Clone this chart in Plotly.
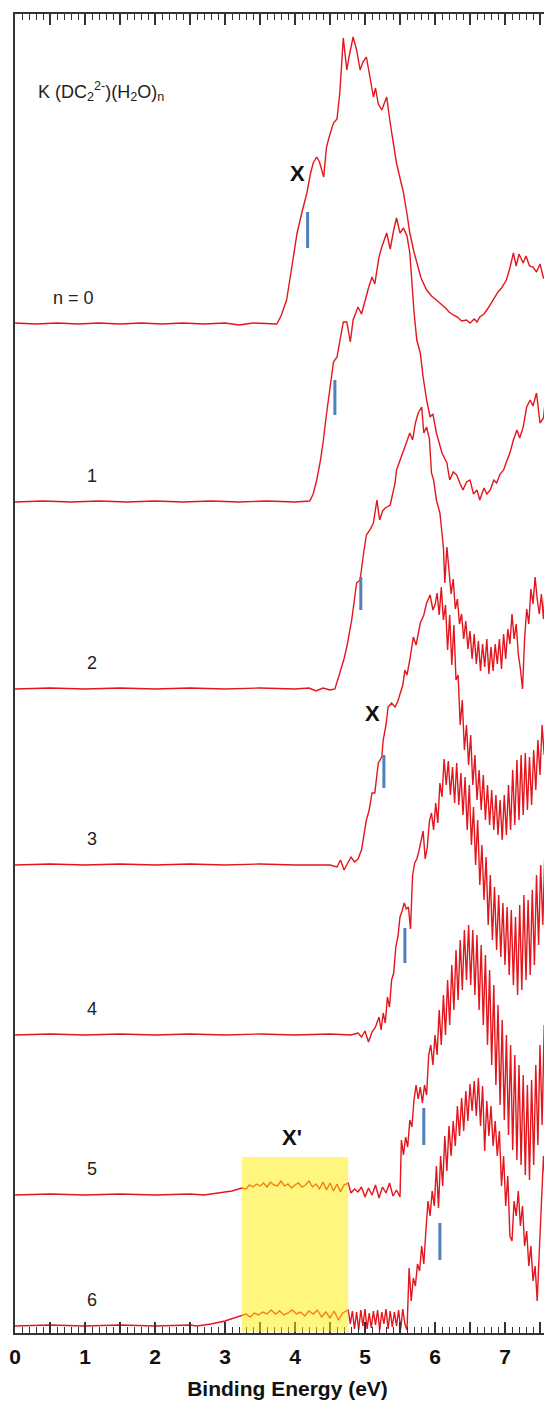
import plotly.graph_objects as go

# ---------------- data ----------------
n_labels = ["n = 0", "1", "2", "3", "4", "5", "6"]
offsets = [1009, 831, 644, 468, 298, 138, 7]   # vertical stacking offsets (arb. units)

E0 = [0.0, 0.3, 0.6, 0.9, 1.2, 1.5, 1.8, 2.1, 2.4, 2.7, 3.0, 3.2, 3.4, 3.6, 3.74, 3.8, 3.88, 3.95, 4.03, 4.1,
      4.17, 4.22, 4.26, 4.31, 4.35, 4.41, 4.45, 4.5, 4.55, 4.6, 4.64, 4.69, 4.72, 4.74, 4.78, 4.83, 4.88, 4.93,
      4.97, 5.02, 5.07, 5.12, 5.15, 5.19, 5.24, 5.28, 5.31, 5.36, 5.4, 5.45, 5.5, 5.55, 5.6, 5.64, 5.7, 5.74,
      5.8, 5.88, 5.95, 6.02, 6.07, 6.15, 6.2, 6.26, 6.32, 6.38, 6.45, 6.5, 6.56, 6.6, 6.64, 6.7, 6.76, 6.83,
      6.9, 6.95, 7.02, 7.07, 7.12, 7.16, 7.2, 7.26, 7.3, 7.35, 7.4, 7.45, 7.5, 7.55, 7.6, 7.64, 7.7, 7.8]
I0 = [1, 0, 1, 0, 1, 0, 1, 0, 1, 0, 1, -1, 1, 0, 0, 8, 24, 55, 91, 112,
      131, 150, 161, 167, 162, 147, 177, 190, 201, 205, 231, 286, 262, 254, 270, 287, 274, 254,
      262, 267, 247, 227, 236, 220, 214, 222, 227, 201, 182, 161, 146, 131, 110, 91, 72, 61,
      46, 34, 28, 24, 21, 16, 12, 9, 7, 3, 4, 1, 5, 2, 7, 10, 16, 24,
      32, 36, 44, 56, 71, 58, 70, 61, 68, 58, 57, 52, 60, 46, 44, 77, 70, 75]

E1 = [0.0, 0.4, 0.8, 1.2, 1.6, 2.0, 2.4, 2.8, 3.2, 3.6, 4.0, 4.21, 4.26, 4.31, 4.36, 4.4, 4.45, 4.5, 4.55,
      4.6, 4.65, 4.69, 4.74, 4.79, 4.83, 4.87, 4.9, 4.95, 5.0, 5.05, 5.1, 5.14, 5.2, 5.24, 5.31, 5.36, 5.41,
      5.45, 5.5, 5.55, 5.6, 5.64, 5.67, 5.7, 5.74, 5.79, 5.83, 5.88, 5.93, 5.97, 6.02, 6.1, 6.17, 6.21,
      6.26, 6.31, 6.36, 6.4, 6.45, 6.5, 6.55, 6.6, 6.64, 6.7, 6.74, 6.79, 6.84, 6.88, 6.93, 6.98, 7.02,
      7.07, 7.12, 7.17, 7.21, 7.26, 7.31, 7.36, 7.4, 7.45, 7.5, 7.55, 7.6, 7.64, 7.7, 7.8]
I1 = [0, 1, 0, 1, 0, 1, 0, 1, 0, 1, 0, 1, 8, 22, 40, 59, 88, 115, 140,
      145, 165, 180, 180, 160, 182, 190, 195, 188, 202, 214, 225, 218, 245, 255, 269, 253, 272,
      284, 269, 274, 266, 249, 220, 190, 162, 149, 125, 102, 85, 88, 69, 49, 39, 22,
      30, 27, 18, 12, 20, 22, 8, 12, 2, 14, 8, 12, 22, 19, 28, 32, 40,
      49, 62, 72, 64, 75, 95, 102, 96, 109, 79, 84, 119, 135, 150, 165]

E2 = [0.0, 0.5, 1.0, 1.5, 2.0, 2.5, 3.0, 3.5, 4.0, 4.2, 4.3, 4.4, 4.5, 4.57, 4.64, 4.7, 4.74, 4.81, 4.88,
      4.93, 4.98, 5.02, 5.07, 5.12, 5.17, 5.21, 5.25, 5.29, 5.36, 5.43, 5.45, 5.5, 5.55, 5.6, 5.64, 5.68,
      5.72, 5.76, 5.81, 5.84, 5.88, 5.92, 5.95, 5.98, 6.02, 6.07, 6.12, 6.14, 6.17,
      6.20, 6.23, 6.26, 6.29, 6.32, 6.35, 6.38, 6.41, 6.44, 6.47, 6.50, 6.53, 6.56, 6.59, 6.62, 6.65,
      6.68, 6.71, 6.74, 6.77, 6.80, 6.83, 6.86, 6.89, 6.92, 6.95, 6.98, 7.01, 7.04, 7.07, 7.10, 7.13,
      7.16, 7.19, 7.22, 7.25, 7.28, 7.31, 7.34, 7.37, 7.40, 7.43, 7.46, 7.49, 7.52, 7.55, 7.58, 7.61,
      7.64, 7.70, 7.80]
I2 = [0, 1, 0, 1, 0, 1, 0, 1, 0, 1, -2, 1, -1, 0, 16, 30, 42, 69, 106,
      109, 136, 154, 159, 166, 189, 169, 178, 181, 184, 206, 219, 228, 239, 248, 256, 249,
      266, 276, 282, 256, 262, 250, 216, 209, 189, 176, 142, 106, 142,
      120, 95, 110, 80, 90, 65, 75, 50, 68, 40, 58, 30, 55, 25, 48, 18,
      45, 22, 50, 15, 42, 18, 45, 25, 50, 20, 55, 30, 60, 45, 75, 50,
      65, 35, 20, 0, 50, 80, 65, 100, 85, 112, 90, 75, 95, 70, 110, 140,
      180, 195, 205]

E3 = [0.0, 0.5, 1.0, 1.5, 2.0, 2.5, 3.0, 3.5, 4.0, 4.5, 4.6, 4.65, 4.7, 4.75, 4.8, 4.85, 4.9, 4.95, 5.02,
      5.06, 5.1, 5.14, 5.19, 5.24, 5.26, 5.3, 5.33, 5.38, 5.43, 5.47, 5.5, 5.54, 5.57, 5.6, 5.64, 5.69,
      5.73, 5.79, 5.84, 5.88, 5.93, 5.97,
      6.00, 6.03, 6.06, 6.09, 6.12, 6.15, 6.18, 6.21, 6.24, 6.27, 6.30, 6.33, 6.36, 6.39, 6.42, 6.45,
      6.48, 6.51, 6.54, 6.57, 6.60, 6.63, 6.66, 6.69, 6.72, 6.75, 6.78, 6.81, 6.84, 6.87, 6.90, 6.93,
      6.96, 6.99, 7.02, 7.05, 7.08, 7.11, 7.14, 7.17, 7.20, 7.23, 7.26, 7.29, 7.32, 7.35, 7.38, 7.41,
      7.44, 7.47, 7.50, 7.53, 7.56, 7.59, 7.62, 7.66, 7.70, 7.80]
I3 = [0, 1, 0, 1, 0, 1, 0, 1, 0, 0, -2, 5, -5, 2, 8, 3, 6, 15, 45,
      55, 72, 72, 102, 108, 125, 140, 158, 162, 158, 164, 172, 180, 195, 190, 205, 228,
      220, 242, 250, 262, 270, 255,
      260, 272, 250, 278, 245, 260, 215, 250, 200, 240, 185, 190, 140, 165, 115, 140,
      100, 130, 80, 110, 65, 95, 55, 90, 45, 80, 40, 75, 35, 70, 30, 65,
      25, 70, 30, 80, 35, 95, 40, 105, 45, 110, 50, 112, 55, 108, 60, 115,
      75, 125, 90, 140, 110, 160, 150, 185, 200, 215]

E4 = [0.0, 0.5, 1.0, 1.5, 2.0, 2.5, 3.0, 3.5, 4.0, 4.5, 4.8, 4.9, 4.95, 5.0, 5.05, 5.1, 5.15,
      5.20, 5.23, 5.26, 5.29, 5.32, 5.35, 5.38, 5.41, 5.44, 5.47, 5.50, 5.53, 5.56, 5.59, 5.62, 5.65,
      5.68, 5.71, 5.74, 5.77, 5.80, 5.83, 5.86, 5.89, 5.92, 5.95, 5.98, 6.01, 6.04, 6.07, 6.10, 6.13,
      6.16, 6.19, 6.22, 6.25, 6.28, 6.31, 6.34, 6.37, 6.40, 6.43, 6.46, 6.49, 6.52, 6.55, 6.58, 6.61,
      6.64, 6.67, 6.70, 6.73, 6.76, 6.79, 6.82, 6.85, 6.88, 6.91, 6.94, 6.97, 7.00, 7.03, 7.06, 7.09,
      7.12, 7.15, 7.18, 7.21, 7.24, 7.27, 7.30, 7.33, 7.36, 7.39, 7.42, 7.45, 7.48, 7.51, 7.54, 7.57,
      7.60, 7.63, 7.66, 7.70, 7.80]
I4 = [0, 1, 0, 1, 0, 1, 0, 1, 0, 1, 0, 2, -2, 4, -7, 3, 8,
      18, 5, 22, 12, 38, 28, 55, 62, 88, 98, 118, 124, 132, 126, 128, 106,
      160, 172, 176, 184, 194, 204, 176, 188, 214, 222, 205, 232, 212, 252, 238, 276,
      250, 274, 240, 268, 232, 272, 230, 262, 220, 258, 205, 250, 190, 228, 170, 215,
      150, 190, 135, 178, 110, 160, 95, 148, 85, 140, 78, 132, 70, 128, 60, 125,
      50, 118, 40, 130, 45, 140, 55, 135, 60, 145, 70, 160, 90, 170, 110, 185,
      130, 200, 160, 210, 220]

E5 = [0.0, 0.5, 1.0, 1.5, 2.0, 2.5, 2.7, 2.9, 3.1, 3.24, 3.3, 3.35, 3.4, 3.45, 3.5, 3.55, 3.6, 3.65, 3.7,
      3.75, 3.8, 3.85, 3.9, 3.95, 4.0, 4.05, 4.1, 4.15, 4.2, 4.25, 4.3, 4.35, 4.4, 4.45, 4.5, 4.55, 4.6,
      4.65, 4.7, 4.76, 4.8, 4.85, 4.9, 4.95, 5.0, 5.05, 5.1, 5.15, 5.2, 5.25, 5.3, 5.35, 5.4, 5.45,
      5.50, 5.52, 5.55, 5.58, 5.61, 5.64, 5.67, 5.70, 5.73, 5.76, 5.79, 5.82, 5.85, 5.88, 5.91, 5.94,
      5.97, 6.00, 6.03, 6.06, 6.09, 6.12, 6.15, 6.18, 6.21, 6.24, 6.27, 6.30, 6.33, 6.36, 6.39, 6.42,
      6.45, 6.48, 6.51, 6.54, 6.57, 6.60, 6.63, 6.66, 6.69, 6.72, 6.75, 6.78, 6.81, 6.84, 6.87, 6.90,
      6.93, 6.96, 6.99, 7.02, 7.05, 7.08, 7.11, 7.14, 7.17, 7.20, 7.23, 7.26, 7.29, 7.32, 7.35, 7.38,
      7.41, 7.44, 7.47, 7.50, 7.53, 7.56, 7.59, 7.62, 7.65, 7.70, 7.80]
I5 = [0, 1, 0, 1, 0, 1, 0, 2, 4, 7, 6, 10, 8, 11, 9, 12, 8, 13, 10,
      9, 14, 9, 11, 7, 10, 12, 8, 10, 14, 8, 11, 6, 13, 5, 12, 4, 11,
      3, 10, 12, 2, 6, 3, 8, -2, 7, 0, 10, -3, 8, 2, 12, -1, 5,
      -2, 55, 40, 58, 48, 75, 68, 95, 110, 96, 108, 92, 110, 100, 140, 150,
      130, 160, 140, 185, 150, 200, 160, 215, 170, 230, 185, 245, 195, 255, 205, 265,
      215, 270, 210, 265, 200, 260, 185, 250, 170, 240, 150, 225, 130, 210, 110, 190,
      90, 175, 75, 160, 60, 150, 45, 140, 35, 130, 30, 120, 20, 110, 15, 115,
      30, 130, 50, 150, 70, 170, 100, 190, 130, 200, 210]

E6 = [0.0, 0.5, 1.0, 1.5, 2.0, 2.5, 2.6, 2.8, 3.0, 3.24, 3.3, 3.36, 3.42, 3.48, 3.54, 3.6, 3.66, 3.72, 3.78,
      3.84, 3.9, 3.96, 4.02, 4.08, 4.14, 4.2, 4.26, 4.32, 4.38, 4.44, 4.5, 4.56, 4.62, 4.68,
      4.76, 4.79, 4.82, 4.85, 4.88, 4.91, 4.94, 4.97, 5.00, 5.03, 5.06, 5.09, 5.12, 5.15, 5.18, 5.21,
      5.24, 5.27, 5.30, 5.33, 5.36, 5.39, 5.42, 5.45, 5.48, 5.51, 5.54, 5.57, 5.60, 5.63, 5.66, 5.69,
      5.72, 5.75, 5.78, 5.81, 5.84, 5.87, 5.90, 5.93, 5.96, 5.99, 6.02, 6.05, 6.08, 6.11, 6.14, 6.17,
      6.20, 6.23, 6.26, 6.29, 6.32, 6.35, 6.38, 6.41, 6.44, 6.47, 6.50, 6.53, 6.56, 6.59, 6.62, 6.65,
      6.68, 6.71, 6.74, 6.77, 6.80, 6.83, 6.86, 6.89, 6.92, 6.95, 6.98, 7.01, 7.04, 7.07, 7.10, 7.13,
      7.16, 7.19, 7.22, 7.25, 7.28, 7.31, 7.34, 7.37, 7.40, 7.43, 7.46, 7.49, 7.52, 7.55, 7.58, 7.61,
      7.64, 7.70, 7.80]
I6 = [0, 1, 0, 1, 0, 1, 0, 2, 5, 10, 12, 9, 13, 11, 14, 12, 16, 12, 15,
      11, 13, 16, 12, 14, 10, 15, 12, 16, 9, 14, 8, 15, 6, 13,
      16, 2, 15, -3, 14, -4, 16, 0, 17, -3, 13, -2, 15, 1, 16, -4,
      14, 2, 17, -3, 15, -1, 14, 0, 16, -3, 17, 2, -4, 58, 25, 48,
      40, 62, 55, 80, 62, 95, 125, 110, 135, 120, 160, 118, 170, 140, 190, 155,
      200, 170, 205, 180, 220, 190, 228, 195, 235, 205, 242, 215, 245, 210, 248, 200,
      240, 175, 225, 190, 220, 180, 205, 170, 195, 140, 170, 120, 150, 90, 85, 125,
      110, 135, 100, 120, 80, 95, 60, 80, 45, 60, 25, 75, 130, 170, 140, 175,
      155, 185, 195]

energies = [E0, E1, E2, E3, E4, E5, E6]
intensities = [I0, I1, I2, I3, I4, I5, I6]

# onset marks (blue bars): energy, top and bottom relative to each baseline
onset_E = [4.18, 4.57, 4.94, 5.27, 5.57, 5.84, 6.07]
onset_top = [112, 122, 112, 110, 107, 87, 103]
onset_bot = [76, 87, 79, 77, 72, 50, 66]

xticks = [0, 1, 2, 3, 4, 5, 6, 7]
x_title = "Binding Energy (eV)"
chart_label = "K (DC<sub>2</sub><sup>2-</sup>)(H<sub>2</sub>O)<sub>n</sub>"
band_region = [3.24, 4.76]

# ---------------- figure ----------------
RED = "#e3161d"
BLUE = "#4f81bd"
FONT = "Liberation Sans, Arial, sans-serif"

fig = go.Figure()
for E, I, off in zip(energies, intensities, offsets):
    fig.add_trace(go.Scatter(x=E, y=[v + off for v in I], mode="lines",
                             line=dict(color=RED, width=1.4), showlegend=False,
                             hoverinfo="skip"))

for e, t, b, off in zip(onset_E, onset_top, onset_bot, offsets):
    fig.add_trace(go.Scatter(x=[e, e], y=[b + off, t + off], mode="lines",
                             line=dict(color=BLUE, width=3), showlegend=False,
                             hoverinfo="skip"))

# highlighted X' region
fig.add_shape(type="rect", xref="x", yref="y", x0=band_region[0], x1=band_region[1],
              y0=1, y1=176, fillcolor="#ffee00", opacity=0.5, layer="above",
              line=dict(width=0))

# series labels
for lab, off in zip(n_labels, offsets):
    xl = 0.83 if lab.startswith("n") else 1.1
    fig.add_annotation(x=xl, y=off + 26, xref="x", yref="y", text=lab, showarrow=False,
                       font=dict(family=FONT, size=18, color="#222"))

fig.add_annotation(x=4.03, y=1160, xref="x", yref="y", text="<b>X</b>", showarrow=False,
                   font=dict(family=FONT, size=22, color="#111"))
fig.add_annotation(x=5.11, y=620, xref="x", yref="y", text="<b>X</b>", showarrow=False,
                   font=dict(family=FONT, size=22, color="#111"))
fig.add_annotation(x=3.96, y=196, xref="x", yref="y", text="<b>X'</b>", showarrow=False,
                   font=dict(family=FONT, size=22, color="#111"))
fig.add_annotation(x=0.3, y=1242, xref="x", yref="y", text=chart_label, showarrow=False,
                   xanchor="left", font=dict(family=FONT, size=18, color="#222"))

# the page body keeps an 8 px browser margin, so the figure is laid out 8 px in
major = [i * 0.5 for i in range(0, 17)]
fig.update_xaxes(range=[0, 545 / 70], tickvals=major,
                 ticktext=[str(int(v)) if v == int(v) else "" for v in major],
                 ticks="inside", ticklen=11, tickwidth=1.5, tickcolor="#333",
                 minor=dict(dtick=0.1, ticks="inside", ticklen=6, tickwidth=1.2, tickcolor="#333"),
                 showline=True, linecolor="#333", linewidth=2, mirror="allticks",
                 showgrid=False, zeroline=False, automargin=False, ticklabelstandoff=4,
                 tickfont=dict(family=FONT, size=21, color="#111", weight="bold"),
                 title=dict(text=x_title, standoff=14,
                            font=dict(family=FONT, size=21, color="#111", weight="bold")))
fig.update_yaxes(range=[0, 1319], showline=True, linecolor="#333", linewidth=2,
                 mirror=False, showticklabels=False, ticks="", showgrid=False, zeroline=False,
                 automargin=False)

fig.update_layout(width=552, height=1408, margin=dict(l=7, r=0, t=6, b=83),
                  plot_bgcolor="white", paper_bgcolor="white")

fig.write_html("out.html")
